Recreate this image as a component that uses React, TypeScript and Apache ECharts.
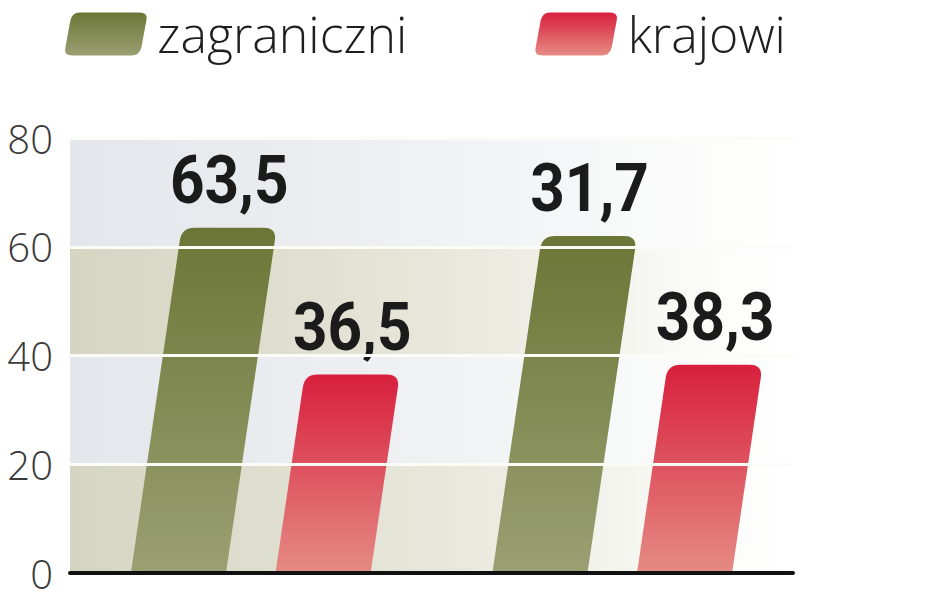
import React, { useEffect, useRef } from 'react';
import * as echarts from 'echarts';

const categories = ['I', 'II'];
const seriesNames = ['zagraniczni', 'krajowi'];
const zagraniczni = [63.5, 62.0];
const zagraniczniLabels = ['63,5', '31,7'];
const krajowi = [36.5, 38.3];
const krajowiLabels = ['36,5', '38,3'];
const yMin = 0;
const yMax = 80;
const yInterval = 20;

const vgrad = (top: string, bottom: string) =>
  new echarts.graphic.LinearGradient(0, 0, 0, 1, [
    { offset: 0, color: top },
    { offset: 1, color: bottom },
  ]);

const hgrad = (left: string, mid: string) =>
  new echarts.graphic.LinearGradient(0, 0, 1, 0, [
    { offset: 0, color: left },
    { offset: 0.5, color: mid },
    { offset: 0.92, color: '#fdfdfc' },
    { offset: 1, color: '#ffffff' },
  ]);

const GREEN_TOP = '#6b7636';
const GREEN_BOTTOM = '#9aa072';
const RED_TOP = '#d81f3d';
const RED_BOTTOM = '#e58b84';

function makeRenderItem(offset: number, labels: string[], top: string, bottom: string) {
  return (params: any, api: any) => {
    const i = api.value(0);
    const v = api.value(1);
    const base = api.coord([i, 0]);
    const tp = api.coord([i, v]);
    const bw = api.size([1, 0])[0];
    const w = bw * 0.263;
    const cx = base[0] + offset * bw;
    const y0 = base[1];
    const y1 = tp[1];
    const h = y0 - y1;
    const s = h * 0.147;
    const xl = cx - w / 2;
    const xr = cx + w / 2;
    const r = 13;
    const len = Math.hypot(s, h);
    const ux = s / len;
    const uy = h / len;
    const d =
      `M${xl},${y0} L${xr},${y0} ` +
      `L${xr + s - r * ux},${y1 + r * uy} ` +
      `Q${xr + s},${y1} ${xr + s - r},${y1} ` +
      `L${xl + s + r},${y1} ` +
      `Q${xl + s},${y1} ${xl + s - r * ux},${y1 + r * uy} Z`;
    return {
      type: 'group',
      children: [
        {
          type: 'path',
          shape: { pathData: d },
          style: { fill: vgrad(top, bottom) },
        },
        {
          type: 'text',
          x: cx + s,
          y: y1 - 47,
          scaleX: 0.9,
          style: {
            text: labels[params.dataIndex],
            fill: '#1b1b1b',
            fontSize: 67,
            fontWeight: 'bold',
            fontFamily: 'Roboto',
            align: 'center',
            verticalAlign: 'middle',
          },
        },
      ],
    };
  };
}

const ICON =
  'path://M15,0 L75,0 Q84,0 82,8 L77,35 Q75,43 67,43 L8,43 Q-1,43 1,35 L6,8 Q8,0 15,0 Z';

export default function App() {
  const ref = useRef<HTMLDivElement>(null);
  useEffect(() => {
    if (!ref.current) return;
    const chart = echarts.init(ref.current, null, { renderer: 'svg' });
    chart.setOption({
      animation: false,
      backgroundColor: '#ffffff',
      grid: { left: 70, right: 155, top: 138, bottom: 19, containLabel: false },
      legend: {
        left: 65,
        top: 9,
        padding: 0,
        itemWidth: 83,
        itemHeight: 43,
        itemGap: 128,
        data: seriesNames.map((n) => ({ name: n, icon: ICON })),
        textStyle: {
          fontSize: 50,
          fontFamily: 'Open Sans',
          fontWeight: 300,
          color: '#1e1e1e',
          padding: [0, 0, 0, 5],
        },
      },
      xAxis: {
        type: 'category',
        data: categories,
        z: 4,
        axisLine: { show: true, lineStyle: { color: '#111111', width: 4 } },
        axisTick: { show: false },
        axisLabel: { show: false },
        splitLine: { show: false },
      },
      yAxis: [
        {
          type: 'value',
          min: yMin,
          max: yMax,
          interval: yInterval,
          position: 'left',
          axisLine: { show: false },
          axisTick: { show: false },
          axisLabel: {
            margin: 17,
            fontSize: 40,
            lineHeight: 32,
            fontFamily: 'Open Sans',
            fontWeight: 300,
            color: '#3a3a3a',
          },
          splitLine: { show: false },
          splitArea: {
            show: true,
            areaStyle: {
              color: [hgrad('#d5d5c2', '#e6e6da'), hgrad('#e3e6eb', '#eff1f3')],
            },
          },
        },
        {
          type: 'value',
          min: yMin,
          max: yMax,
          interval: yInterval,
          position: 'left',
          z: 3,
          axisLine: { show: false },
          axisTick: { show: false },
          axisLabel: { show: false },
          splitLine: { show: true, lineStyle: { color: '#fcfcf6', width: 3 } },
          splitArea: { show: false },
        },
      ],
      series: [
        {
          name: seriesNames[0],
          type: 'custom',
          z: 2,
          itemStyle: { color: vgrad(GREEN_TOP, GREEN_BOTTOM) },
          encode: { x: 0, y: 1 },
          data: zagraniczni.map((v, i) => [i, v]),
          renderItem: makeRenderItem(-0.2, zagraniczniLabels, GREEN_TOP, GREEN_BOTTOM),
        },
        {
          name: seriesNames[1],
          type: 'custom',
          z: 2,
          itemStyle: { color: vgrad(RED_TOP, RED_BOTTOM) },
          encode: { x: 0, y: 1 },
          data: krajowi.map((v, i) => [i, v]),
          renderItem: makeRenderItem(0.2, krajowiLabels, RED_TOP, RED_BOTTOM),
        },
      ],
    });
    return () => chart.dispose();
  }, []);
  return (
    <div
      ref={ref}
      style={{ position: 'fixed', left: 0, top: 0, width: 948, height: 593 }}
    />
  );
}
